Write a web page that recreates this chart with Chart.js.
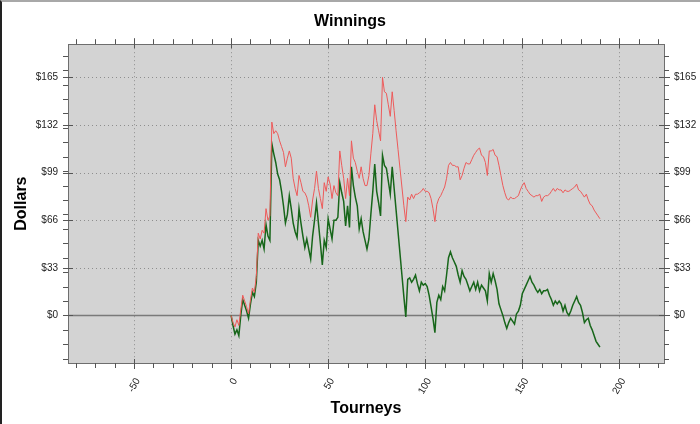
<!DOCTYPE html>
<html>
<head>
<meta charset="utf-8">
<script src="https://cdn.jsdelivr.net/npm/chart.js@4.4.0/dist/chart.umd.min.js"></script>
<style>
body { margin: 0; background: #fff; }
#wrap { position: relative; width: 700px; height: 424px; }
#edge { position: absolute; left: 0; top: 0; width: 700px; height: 424px; box-sizing: border-box;
        border-top: 2px solid #a8a8a8; border-left: 2px solid #222; pointer-events: none; }
</style>
</head>
<body>
<div id="wrap"><canvas id="chart" width="700" height="424"></canvas><div id="edge"></div></div>
<script>
// one value per tourney, starting at tourney 0
var winningsRed = [
	0, -5, -8, -3, -7, 4, 14, 10, 6, 1,
	11, 19, 16, 27, 57, 53, 59, 57, 74, 66,
	69, 134, 126, 128, 126, 121, 117, 113, 103, 109,
	114, 109, 95, 88, 83, 97, 92, 86, 85, 82,
	76, 68, 80, 88, 100, 88, 81, 74, 92, 86,
	96, 91, 81, 90, 85, 83, 114, 104, 95, 81,
	95, 83, 121, 109, 106, 100, 95, 103, 95, 90,
	90, 97, 112, 126, 146, 135, 128, 121, 165, 155,
	154, 146, 138, 155, 142, 128, 115, 102, 89, 76,
	65, 82, 80, 84, 81, 84, 84, 85, 86, 88,
	86, 86, 85, 81, 74, 65, 77, 81, 83, 86,
	89, 95, 104, 106, 104, 104, 103, 103, 94, 97,
	102, 106, 105, 105, 108, 111, 113, 115, 116, 111,
	110, 106, 97, 114, 114, 115, 111, 110, 104, 97,
	90, 85, 81, 80, 82, 81, 81, 82, 83, 87,
	90, 92, 88, 86, 84, 83, 82, 83, 83, 84,
	79, 82, 83, 83, 84, 86, 88, 86, 88, 87,
	87, 85, 87, 86, 86, 87, 88, 89, 91, 87,
	86, 84, 82, 84, 80, 77, 76, 73, 71, 69,
	67
];
var winningsGreen = [
	0, -7, -13, -10, -14, 0, 11, 7, 3, -2,
	8, 16, 13, 23, 52, 48, 52, 46, 63, 55,
	52, 119, 112, 106, 98, 94, 86, 76, 64, 70,
	83, 74, 64, 58, 54, 74, 64, 55, 47, 53,
	46, 39, 55, 66, 78, 64, 50, 35, 52, 47,
	67, 60, 53, 66, 66, 68, 92, 85, 79, 62,
	76, 61, 103, 90, 82, 76, 60, 67, 58, 52,
	46, 53, 70, 86, 105, 86, 78, 69, 111, 104,
	102, 93, 84, 103, 88, 73, 58, 43, 28, 13,
	-1, 25, 26, 23, 25, 28, 22, 17, 23, 21,
	22, 20, 14, 6, -2, -12, 9, 14, 11, 20,
	17, 28, 40, 44, 40, 37, 34, 28, 23, 31,
	27, 25, 21, 17, 20, 23, 18, 23, 17, 21,
	19, 17, 10, 29, 23, 29, 24, 18, 8, 4,
	0, -5, -9, -5, -2, -4, -6, 1, 3, 7,
	15, 18, 21, 24, 27, 23, 21, 18, 16, 18,
	15, 17, 17, 18, 14, 11, 7, 10, 8, 10,
	8, 3, 7, 2, 0, 3, 7, 10, 13, 9,
	7, 2, -5, -3, -2, -7, -10, -14, -18, -20,
	-22
];
var xTickLabels = [-50, 0, 50, 100, 150, 200];
var yTickLabels = [0, 33, 66, 99, 132, 165];

function toPoints(arr) {
	return arr.map(function (v, i) { return { x: i, y: v }; });
}

function line(c, x1, y1, x2, y2) {
	c.beginPath(); c.moveTo(x1, y1); c.lineTo(x2, y2); c.stroke();
}

// grey plot box, dotted grid, zero line, border and the small ticks on all 4 sides
var frame = {
	id: 'frame',
	beforeDatasetsDraw: function (chart) {
		var c = chart.ctx, a = chart.chartArea, sx = chart.scales.x, sy = chart.scales.y;
		c.save();
		c.fillStyle = '#d3d3d3';
		c.fillRect(a.left, a.top, a.right - a.left, a.bottom - a.top);
		c.strokeStyle = '#8e8e8e';
		c.lineWidth = 1;
		c.setLineDash([1, 3]);
		xTickLabels.forEach(function (v) {
			var px = Math.round(sx.getPixelForValue(v)) + 0.5;
			line(c, px, a.top, px, a.bottom);
		});
		yTickLabels.forEach(function (v) {
			if (v === 0) return;
			var py = Math.round(sy.getPixelForValue(v)) + 0.5;
			line(c, a.left, py, a.right, py);
		});
		c.setLineDash([]);
		c.strokeStyle = '#7a7a7a';
		c.lineWidth = 1.5;
		var zy = sy.getPixelForValue(0);
		line(c, a.left, zy, a.right, zy);
		c.restore();
	},
	afterDraw: function (chart) {
		var c = chart.ctx, a = chart.chartArea, sx = chart.scales.x, sy = chart.scales.y;
		c.save();
		c.strokeStyle = '#6e6e6e';
		c.lineWidth = 1;
		c.strokeRect(Math.round(a.left) + 0.5, Math.round(a.top) + 0.5, Math.round(a.right - a.left), Math.round(a.bottom - a.top));
		c.strokeStyle = '#555';
		var v, p, inner, outer;
		for (v = -80; v <= 220; v += 10) {
			p = Math.round(sx.getPixelForValue(v)) + 0.5;
			inner = (v % 50 === 0) ? 4 : 0;
			outer = (v % 50 === 0) ? 6 : 5;
			line(c, p, a.bottom - inner, p, a.bottom + outer);
			line(c, p, a.top + inner, p, a.top - outer);
		}
		for (v = -30; v <= 180; v += 10) {
			p = Math.round(sy.getPixelForValue(v)) + 0.5;
			line(c, a.left, p, a.left - 5, p);
			line(c, a.right, p, a.right + 5, p);
		}
		yTickLabels.forEach(function (t) {
			p = Math.round(sy.getPixelForValue(t)) + 0.5;
			line(c, a.left - 5, p, a.left + 5, p);
			line(c, a.right - 5, p, a.right + 6, p);
		});
		c.restore();
	}
};

Chart.defaults.font.family = 'Liberation Sans, Arial, sans-serif';
Chart.defaults.color = '#111';

var yTicks = function (s) { s.ticks = yTickLabels.map(function (v) { return { value: v }; }); };
var dollars = function (v) { return '$' + v; };

new Chart(document.getElementById('chart').getContext('2d'), {
	type: 'line',
	data: {
		datasets: [{
			data: toPoints(winningsRed),
			borderColor: '#ee5a5a',
			borderWidth: 1,
			pointRadius: 0
		}, {
			data: toPoints(winningsGreen),
			borderColor: '#17661a',
			borderWidth: 1.5,
			pointRadius: 0
		}]
	},
	options: {
		responsive: false,
		animation: false,
		layout: { padding: 0 },
		plugins: {
			legend: { display: false },
			tooltip: { enabled: false },
			title: {
				display: true,
				text: 'Winnings',
				color: '#000',
				font: { size: 16, weight: 'bold' },
				padding: { top: 12, bottom: 13 }
			}
		},
		scales: {
			x: {
				type: 'linear',
				position: 'bottom',
				min: -84,
				max: 223,
				grid: { display: false, drawTicks: false },
				border: { display: false },
				afterBuildTicks: function (s) { s.ticks = xTickLabels.map(function (v) { return { value: v }; }); },
				afterFit: function (s) { s.height = 61; },
				ticks: { minRotation: 60, maxRotation: 60, padding: 13, labelOffset: 4, font: { size: 10 }, color: '#222' },
				title: { display: true, text: 'Tourneys', color: '#000', font: { size: 16, weight: 'bold' }, padding: { top: 0, bottom: 6 } }
			},
			y: {
				position: 'left',
				min: -33,
				max: 188,
				grid: { display: false, drawTicks: false },
				border: { display: false },
				afterBuildTicks: yTicks,
				afterFit: function (s) { s.width = 68; },
				ticks: { padding: 10, font: { size: 10 }, color: '#222', callback: dollars },
				title: { display: true, text: 'Dollars', color: '#000', font: { size: 16, weight: 'bold' }, padding: { top: 12, bottom: 0 } }
			},
			y2: {
				position: 'right',
				min: -33,
				max: 188,
				grid: { display: false, drawTicks: false },
				border: { display: false },
				afterBuildTicks: yTicks,
				afterFit: function (s) { s.width = 36; },
				ticks: { padding: 10, font: { size: 10 }, color: '#222', callback: dollars }
			}
		}
	},
	plugins: [frame]
});
</script>
</body>
</html>
